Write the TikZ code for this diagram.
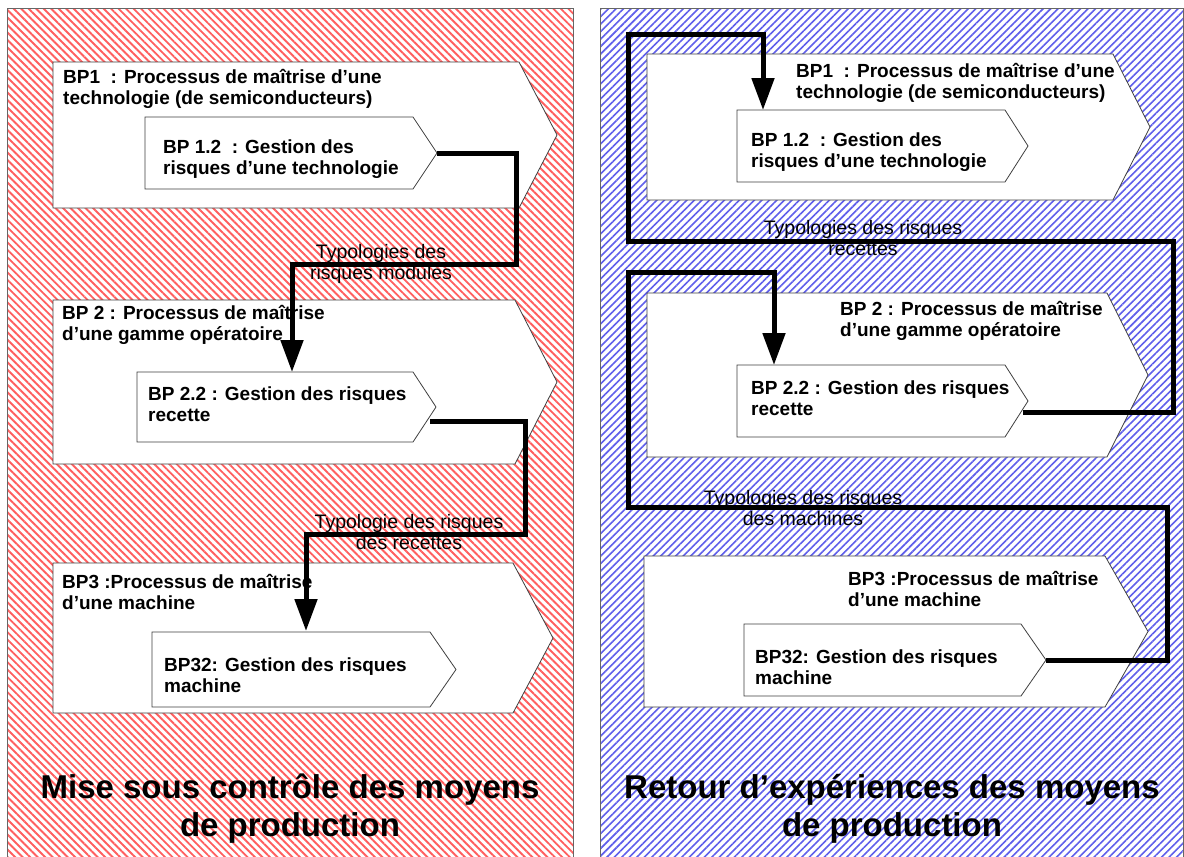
\documentclass[tikz,border=0pt]{standalone}
\usepackage{fontspec}
\setmainfont{Liberation Sans}
\usetikzlibrary{arrows.meta,patterns.meta}
\definecolor{hred}{RGB}{255,95,95}
\definecolor{hblue}{RGB}{95,95,235}
\tikzset{
  panelL/.style={pattern={Lines[angle=-45, distance=5.3pt, line width=1.9pt]}, pattern color=hred},
  panelR/.style={pattern={Lines[angle=45, distance=5.3pt, line width=1.6pt]}, pattern color=hblue},
  frame/.style={draw=black!60, line width=0.9pt},
  box/.style={draw=black!75, line width=0.8pt, fill=white},
  conn/.style={line width=5pt, line join=miter},
  arr/.style={conn, -{Triangle[width=22pt,length=32pt]}},
  bt/.style={font=\fontsize{19}{21.5}\selectfont\bfseries, anchor=west, inner sep=0pt, align=left},
  lab/.style={font=\fontsize{19.5}{21.5}\selectfont, align=center, inner sep=0pt},
  ttl/.style={font=\fontsize{33}{38}\selectfont\bfseries, align=center, inner sep=0pt}
}
\newcommand\chev[6]{%
  \draw[box] (#2,#3) -- (#4,#3) -- (#5,{(#3+#6)/2}) -- (#4,#6) -- (#2,#6) -- cycle;
  \coordinate (#1-tip) at (#5,{(#3+#6)/2});
}
\begin{document}
\begin{tikzpicture}[x=1pt,y=-1pt]
\useasboundingbox (0,0) rectangle (1184,857);
\fill[white] (0,0) rectangle (1184,857);
% panels
\path[panelL] (7,8) rectangle (573,862);
\path[panelR] (600,8) rectangle (1183,862);
\draw[frame] (7,862) -- (7,8) -- (573,8) -- (573,862);
\draw[frame] (600,862) -- (600,8) -- (1183,8) -- (1183,862);

% ---------- left panel ----------
\chev{L1}{53}{62}{519}{557}{208}
\chev{L12}{145}{117}{413}{437}{189}
\chev{L2}{53}{300}{515}{557}{464}
\chev{L22}{137}{372}{413}{436}{442}
\chev{L3}{53}{563}{513}{553}{713}
\chev{L32}{152}{632}{430}{456}{707}

\node[bt] (tL1) at (63,89) {BP1\ \ : Processus de maîtrise d’une\\technologie (de semiconducteurs)};
\node[bt] (tL12) at (163,159) {BP 1.2\ \ : Gestion des\\risques d’une technologie};
\node[bt] (tL2) at (62,325) {BP 2 : Processus de maîtrise\\d’une gamme opératoire};
\node[bt] (tL22) at (148,404) {BP 2.2 : Gestion des risques\\recette};
\node[bt] (tL3) at (62,592) {BP3 :Processus de maîtrise\\d’une machine};
\node[bt] (tL32) at (164,675) {BP32: Gestion des risques\\machine};

\coordinate (L22-in) at (292,372);
\coordinate (L22-out) at (430,421);
\coordinate (L32-in) at (306,631);
\draw[arr] (L12-tip) -- (516,153) |- (292,264) -- (L22-in);
\draw[arr] (L22-out) -- (525,421) |- (306,534) -- (L32-in);
\node[lab] (labL1) at (381,264) {Typologies des\\risques modules};
\node[lab] (labL2) at (409,532) {Typologie des risques\\des recettes};

\node[ttl] (titL) at (290,809) {Mise sous contrôle des moyens\\de production};

% ---------- right panel ----------
\chev{R1}{647}{54}{1113}{1150}{200}
\chev{R12}{737}{110}{1005}{1028}{182}
\chev{R2}{647}{293}{1107}{1148}{457}
\chev{R22}{737}{365}{1005}{1028}{437}
\chev{R3}{644}{556}{1105}{1148}{707}
\chev{R32}{744}{624}{1021}{1046}{696}

\node[bt] (tR1) at (796,83) {BP1\ \ : Processus de maîtrise d’une\\technologie (de semiconducteurs)};
\node[bt] (tR12) at (751,152) {BP 1.2\ \ : Gestion des\\risques d’une technologie};
\node[bt] (tR2) at (840,321) {BP 2 : Processus de maîtrise\\d’une gamme opératoire};
\node[bt] (tR22) at (751,398) {BP 2.2 : Gestion des risques\\recette};
\node[bt] (tR3) at (848,589) {BP3 :Processus de maîtrise\\d’une machine};
\node[bt] (tR32) at (755,667) {BP32: Gestion des risques\\machine};

\coordinate (R12-in) at (763,110);
\coordinate (R22-out) at (1023,412);
\coordinate (R22-in) at (774,365);
\draw[arr] (R22-out) -- (1173,412) |- (628,241) |- (763,34) -- (R12-in);
\draw[arr] (R32-tip) -- (1167,660) |- (628,507) |- (774,272) -- (R22-in);
\node[lab] (labR1) at (863,238) {Typologies des risques\\recettes};
\node[lab] (labR2) at (803,508) {Typologies des risques\\des machines};

\node[ttl] (titR) at (892,809) {Retour d’expériences des moyens\\de production};
\end{tikzpicture}
\end{document}
